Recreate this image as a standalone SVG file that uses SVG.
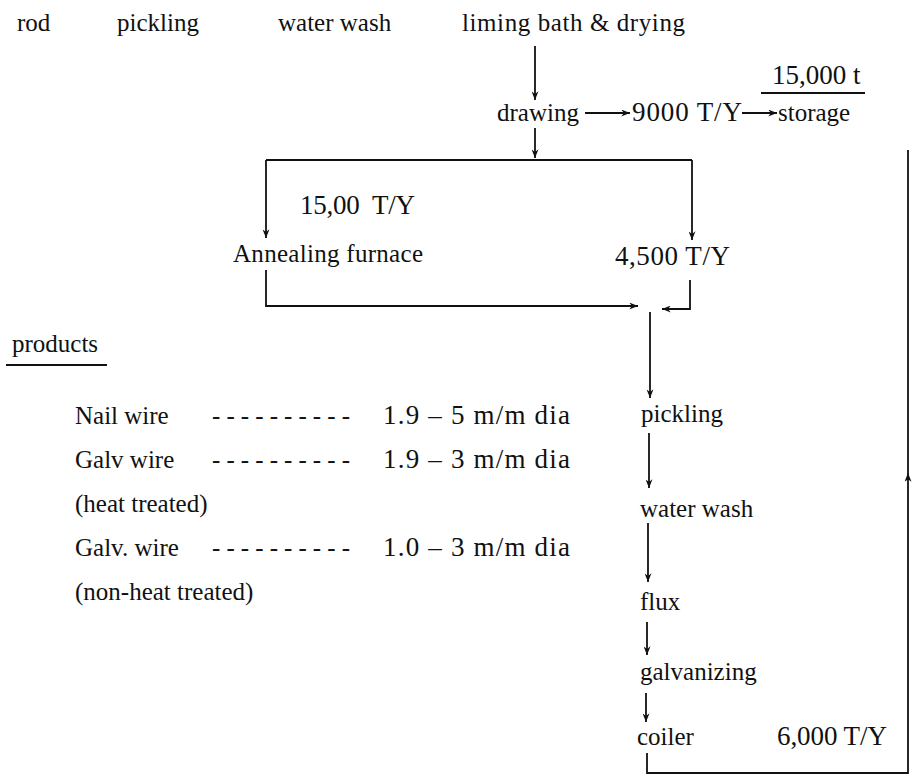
<svg xmlns="http://www.w3.org/2000/svg" width="914" height="775" viewBox="0 0 914 775">
<style>
text{font-family:"Liberation Serif","Times New Roman",serif;font-size:25px;fill:#111}
.n{font-size:27px}
.c{fill:none;stroke:#111;stroke-width:1.8}
.a{marker-end:url(#ah)}
</style>
<defs>
<marker id="ah" viewBox="0 0 10 8" refX="10" refY="4" markerWidth="9" markerHeight="7" orient="auto" markerUnits="userSpaceOnUse"><path d="M0,0 L10,4 L0,8 L3,4 z" fill="#111"/></marker>
</defs>
<rect width="914" height="775" fill="#fff"/>
<g id="rod"><text x="17" y="31">rod</text></g>
<g id="pickling1"><text x="117" y="31">pickling</text></g>
<g id="waterwash1"><text x="278" y="31">water wash</text></g>
<g id="liming"><text x="462" y="31" textLength="223" lengthAdjust="spacing">liming bath &amp; drying</text></g>
<g id="drawing"><text x="497" y="121">drawing</text></g>
<g id="rate9000"><text class="n" x="632" y="121" textLength="110" lengthAdjust="spacing">9000 T/Y</text></g>
<g id="storage"><text x="778" y="121">storage</text></g>
<g id="storagecap"><text class="n" x="772" y="84">15,000 t</text><path class="c" d="M761 93 H865"/></g>
<g id="rate1500"><text class="n" x="300" y="214" textLength="115" lengthAdjust="spacing" xml:space="preserve">15,00  T/Y</text></g>
<g id="annealing"><text x="233" y="262" textLength="190" lengthAdjust="spacing">Annealing furnace</text></g>
<g id="rate4500"><text class="n" x="615" y="265" textLength="115" lengthAdjust="spacing">4,500 T/Y</text></g>
<g id="pickling2"><text x="641" y="422">pickling</text></g>
<g id="waterwash2"><text x="640" y="517">water wash</text></g>
<g id="flux"><text x="640" y="610">flux</text></g>
<g id="galvanizing"><text x="640" y="680">galvanizing</text></g>
<g id="coiler"><text x="637" y="745">coiler</text></g>
<g id="rate6000"><text class="n" x="777" y="745" textLength="110" lengthAdjust="spacing">6,000 T/Y</text></g>
<g id="products">
<text x="12" y="352">products</text><path class="c" d="M6 365 H107"/>
<text x="75" y="424">Nail wire</text>
<text x="212" y="424" textLength="138" lengthAdjust="spacing">- - - - - - - - - -</text>
<text class="n" x="383" y="424" textLength="187" lengthAdjust="spacing">1.9 – 5 m/m dia</text>
<text x="75" y="468">Galv wire</text>
<text x="212" y="468" textLength="138" lengthAdjust="spacing">- - - - - - - - - -</text>
<text class="n" x="383" y="468" textLength="187" lengthAdjust="spacing">1.9 – 3 m/m dia</text>
<text x="75" y="512">(heat treated)</text>
<text x="75" y="556">Galv. wire</text>
<text x="212" y="556" textLength="138" lengthAdjust="spacing">- - - - - - - - - -</text>
<text class="n" x="383" y="556" textLength="187" lengthAdjust="spacing">1.0 – 3 m/m dia</text>
<text x="75" y="600">(non-heat treated)</text>
</g>
<g id="connectors">
<path class="c a" d="M535 46 V100"/>
<path class="c a" d="M585 113 H630"/>
<path class="c a" d="M742 113 H777"/>
<path class="c a" d="M535 128 V158"/>
<path class="c" d="M266 160 H692"/>
<path class="c a" d="M266 160 V238"/>
<path class="c a" d="M692 160 V240"/>
<path class="c a" d="M266 270 V306 H638"/>
<path class="c a" d="M690 280 V309 H662"/>
<path class="c a" d="M650 312 V398"/>
<path class="c a" d="M649 433 V488"/>
<path class="c a" d="M648 523 V582"/>
<path class="c a" d="M647 622 V655"/>
<path class="c a" d="M646 693 V722"/>
<path class="c a" d="M647 753 V773 H908 V473"/>
<path class="c" d="M908 473 V150"/>
</g>
</svg>
